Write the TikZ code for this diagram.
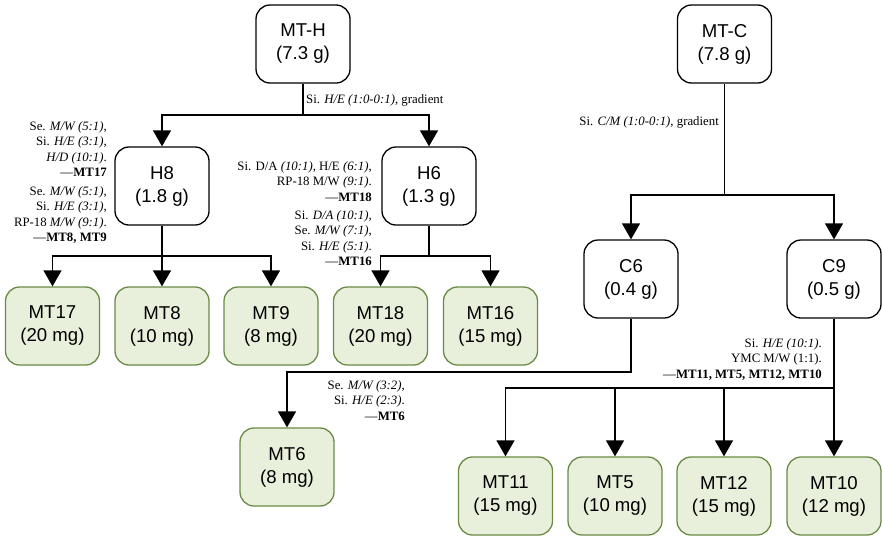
\documentclass[tikz,border=0pt]{standalone}
\usepackage{fontspec}
\setmainfont{Liberation Serif}
\newfontfamily\boxfont{Liberation Sans}
\usetikzlibrary{arrows.meta}
\definecolor{gfill}{HTML}{E8F0DC}
\definecolor{gdraw}{HTML}{6A8A45}
\tikzset{
  wbox/.style={draw=black, line width=1.3pt, rounded corners=14pt, fill=white,
    minimum width=94pt, minimum height=78pt, align=center, inner sep=0pt,
    font=\boxfont\fontsize{18.6pt}{23pt}\selectfont},
  gbox/.style={wbox, draw=gdraw, fill=gfill},
  lab/.style={inner sep=0pt, align=right, font=\fontsize{12.8pt}{15.5pt}\selectfont},
  conn/.style={line width=1.3pt, draw=black},
  arr/.style={conn, -{Triangle[width=18pt,length=16pt]}}
}
\begin{document}
\begin{tikzpicture}[x=1pt,y=-1pt]
\useasboundingbox (0,0) rectangle (882,536);
% nodes
\node[wbox] (MTH) at (303,44) {MT-H\\(7.3 g)};
\node[wbox] (H8) at (162,186) {H8\\(1.8 g)};
\node[wbox] (H6) at (429,186) {H6\\(1.3 g)};
\node[wbox] (MTC) at (724.5,44) {MT-C\\(7.8 g)};
\node[wbox] (C6) at (631,279) {C6\\(0.4 g)};
\node[wbox] (C9) at (834,279) {C9\\(0.5 g)};
\node[gbox] (MT17) at (52.5,326) {MT17\\(20 mg)};
\node[gbox] (MT8) at (162,326) {MT8\\(10 mg)};
\node[gbox] (MT9) at (271,326) {MT9\\(8 mg)};
\node[gbox] (MT18) at (380.5,326) {MT18\\(20 mg)};
\node[gbox] (MT16) at (490.5,326) {MT16\\(15 mg)};
\node[gbox] (MT6) at (287,467) {MT6\\(8 mg)};
\node[gbox] (MT11) at (505.5,496) {MT11\\(15 mg)};
\node[gbox] (MT5) at (615,496) {MT5\\(10 mg)};
\node[gbox] (MT12) at (724,496) {MT12\\(15 mg)};
\node[gbox] (MT10) at (834,496) {MT10\\(12 mg)};
% junctions
\coordinate (jH) at (303,115);
\coordinate (jH8) at (162,256);
\coordinate (jH6) at (429,256);
\coordinate (jC) at (724.5,195);
\coordinate (k6) at (287,372);
\coordinate (jC9) at (834,388);
% connectors
\draw[conn] (MTH.south) -- (jH);
\draw[arr] (jH) -| (H8.north);
\draw[arr] (jH) -| (H6.north);
\draw[conn] (H8.south) -- (jH8);
\draw[arr] (jH8) -| (MT17.north);
\draw[arr] (jH8) -| (MT9.north);
\draw[arr] (H8.south) -- (MT8.north);
\draw[conn] (H6.south) -- (jH6);
\draw[arr] (jH6) -| (MT18.north);
\draw[arr] (jH6) -| (MT16.north);
\draw[conn] (MTC.south) -- (jC);
\draw[arr] (jC) -| (C6.north);
\draw[arr] (jC) -| (C9.north);
\draw[arr] (C6.south) |- (k6) -- (MT6.north);
\draw[conn] (C9.south) -- (jC9);
\draw[arr] (jC9) -| (MT11.north);
\draw[arr] (jC9) -| (MT5.north);
\draw[arr] (jC9) -| (MT12.north);
\draw[arr] (C9.south) -- (MT10.north);
% labels
\node[lab, anchor=west] (lH) at (306,100) {Si. \textit{H/E (1:0-0:1)}, gradient};
\node[lab, anchor=east] (lC) at (719,122) {Si. \textit{C/M (1:0-0:1)}, gradient};
\node[lab, anchor=north east] (lH8a) at (107,121) {Se. \textit{M/W (5:1)},\\Si. \textit{H/E (3:1)},\\\textit{H/D (10:1)}.\\\textemdash\textbf{MT17}};
\node[lab, anchor=north east] (lH8b) at (107,186) {Se. \textit{M/W (5:1)},\\Si. \textit{H/E (3:1)},\\RP-18 \textit{M/W (9:1)}.\\\textemdash\textbf{MT8, MT9}};
\node[lab, anchor=north east] (lH6a) at (372,161) {Si. D/A \textit{(10:1)}, H/E \textit{(6:1)},\\RP-18 M/W \textit{(9:1)}.\\\textemdash\textbf{MT18}};
\node[lab, anchor=north east] (lH6b) at (372,210) {Si. \textit{D/A (10:1)},\\Se. \textit{M/W (7:1)},\\Si. \textit{H/E (5:1)}.\\\textemdash\textbf{MT16}};
\node[lab, anchor=north east] (lMT6) at (405,380) {Se. \textit{M/W (3:2)},\\Si. \textit{H/E (2:3)}.\\\textemdash\textbf{MT6}};
\node[lab, anchor=north east] (lC9) at (822,338) {Si. \textit{H/E (10:1)}.\\YMC M/W (1:1).\\\textemdash\textbf{MT11, MT5, MT12, MT10}};
\end{tikzpicture}
\end{document}
